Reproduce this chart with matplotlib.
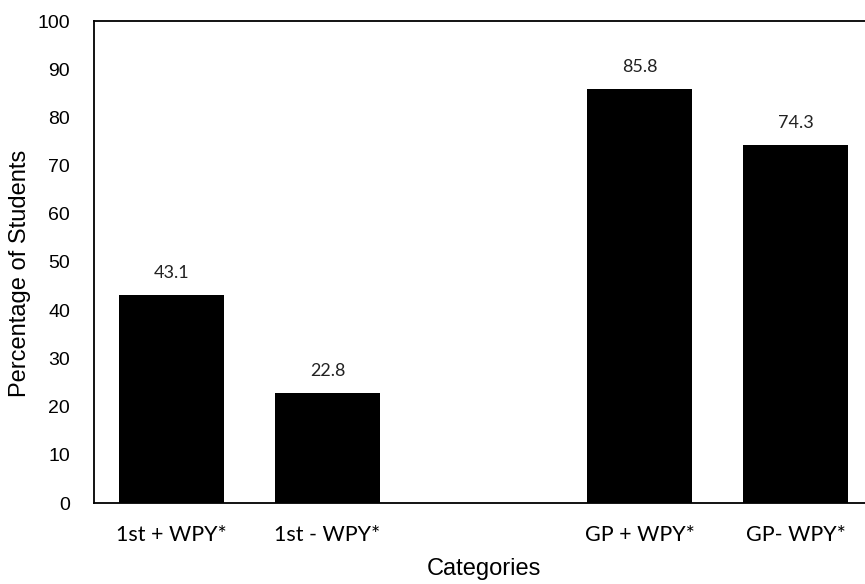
import matplotlib
matplotlib.use("Agg")
import matplotlib.pyplot as plt

categories = ["1st + WPY*", "1st - WPY*", "", "GP + WPY*", "GP- WPY*"]
values = [43.1, 22.8, None, 85.8, 74.3]
yticks = [0, 10, 20, 30, 40, 50, 60, 70, 80, 90, 100]

W, H = 865, 584
fig = plt.figure(figsize=(W / 100, H / 100), dpi=100)
left, right, top, bottom = 93.5, 873.5, 21, 503
ax = fig.add_axes([left / W, 1 - bottom / H, (right - left) / W, (bottom - top) / H])

xs = list(range(len(categories)))
for x, v in zip(xs, values):
    if v is None:
        continue
    ax.bar(x, v, width=0.67, color="black")
    ax.text(x, v + 2.9, f"{v:.1f}", ha="center", va="bottom",
            fontsize=13, family="Lato", color="#222222")

ax.set_xlim(-0.5, len(categories) - 0.5)
ax.set_ylim(0, 100)
ax.set_xticks(xs)
ax.set_xticklabels(categories, family="Lato", fontsize=15.5)
ax.set_yticks(yticks)
ax.set_yticklabels([str(t) for t in yticks], family="Liberation Sans", fontsize=14)
ax.tick_params(axis="both", length=0)
ax.tick_params(axis="x", pad=16)
ax.tick_params(axis="y", pad=17)
ax.spines["right"].set_visible(False)
for s in ["left", "top", "bottom"]:
    ax.spines[s].set_linewidth(1.3)

ax.set_ylabel("Percentage of Students", family="Liberation Sans", fontsize=17)
ax.yaxis.label.set_verticalalignment("center")
ax.yaxis.set_label_coords((20 - left) / (right - left), (bottom - 273) / (bottom - top))
ax.set_xlabel("Categories", family="Liberation Sans", fontsize=17)
ax.xaxis.label.set_verticalalignment("center")
ax.xaxis.set_label_coords(0.5, (bottom - 569) / (bottom - top))

fig.savefig("out.png", dpi=100)
